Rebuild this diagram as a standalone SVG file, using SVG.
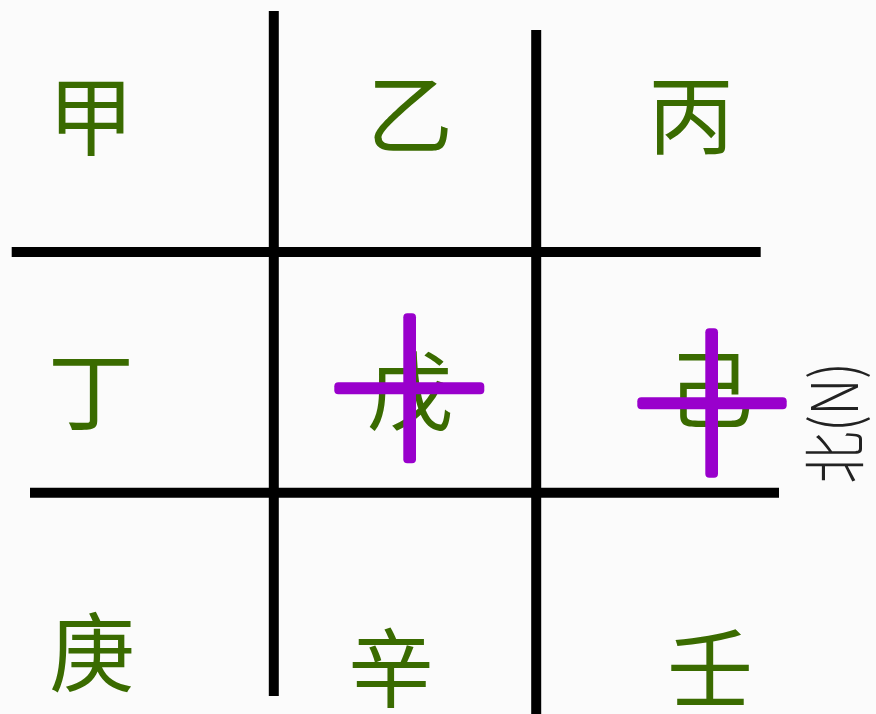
<svg xmlns="http://www.w3.org/2000/svg" width="876" height="714" viewBox="0 0 876 714">
  <style>
    .grid { stroke: #000; stroke-width: 10; }
    .ch { font-family: "Noto Sans CJK SC", "Noto Sans CJK JP", sans-serif; font-size: 86px; fill: #3a6b00; text-anchor: middle; }
    .mark { fill: #9900cc; }
    .north { font-family: "Noto Sans CJK SC", "Noto Sans CJK JP", sans-serif; font-size: 52px; font-weight: 300; fill: #222; text-anchor: middle; }
  </style>
  <rect width="876" height="714" fill="#fbfbfb"/>
  <g id="grid-lines">
    <line class="grid" x1="273.8" y1="11" x2="273.8" y2="696"/>
    <line class="grid" x1="536.2" y1="30" x2="536.2" y2="714"/>
    <line class="grid" x1="11.7" y1="252" x2="760.7" y2="252"/>
    <line class="grid" x1="30" y1="492.8" x2="779" y2="492.8"/>
  </g>
  <g id="cell-jia"><text class="ch" x="91" y="149">甲</text></g>
  <g id="cell-yi"><text class="ch" x="410" y="147">乙</text></g>
  <g id="cell-bing"><text class="ch" x="691" y="148">丙</text></g>
  <g id="cell-ding"><text class="ch" x="91" y="424">丁</text></g>
  <g id="cell-wu"><text class="ch" x="410" y="424">戊</text></g>
  <g id="cell-ji"><text class="ch" x="710" y="422">己</text></g>
  <g id="cell-geng"><text class="ch" x="92" y="685">庚</text></g>
  <g id="cell-xin"><text class="ch" x="391" y="701">辛</text></g>
  <g id="cell-ren"><text class="ch" x="710" y="701">壬</text></g>
  <g id="cross-wu">
    <rect class="mark" x="403.3" y="313.3" width="12.7" height="150" rx="4"/>
    <rect class="mark" x="334.3" y="382.3" width="150" height="12" rx="4"/>
  </g>
  <g id="cross-ji">
    <rect class="mark" x="705.3" y="328.3" width="12.7" height="149.4" rx="4"/>
    <rect class="mark" x="637.3" y="397.3" width="149.4" height="12" rx="4"/>
  </g>
  <g id="north-label">
    <text class="north" transform="translate(834 423) rotate(-90) scale(1 1.23)" x="0" y="19.8">北(N)</text>
  </g>
</svg>
